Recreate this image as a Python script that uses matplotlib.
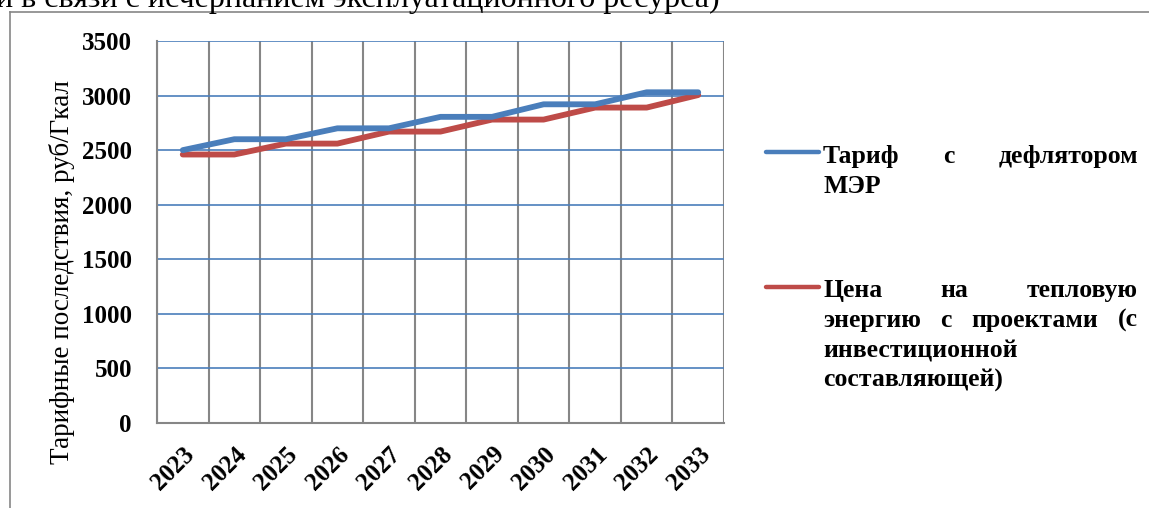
import numpy as np
import matplotlib.pyplot as plt
from matplotlib.lines import Line2D

plt.rcParams['font.family'] = ['Liberation Serif', 'DejaVu Serif']

years = ['2023', '2024', '2025', '2026', '2027', '2028',
         '2029', '2030', '2031', '2032', '2033']
tariff_mer = [2500, 2600, 2600, 2700, 2700, 2805, 2805, 2920, 2920, 3030, 3030]
price_invest = [2460, 2460, 2560, 2560, 2670, 2670, 2780, 2780, 2890, 2890, 3005]
y_ticks = [0, 500, 1000, 1500, 2000, 2500, 3000, 3500]

ylabel = 'Тарифные последствия, руб/Гкал'
top_text = 'и в связи с исчерпанием эксплуатационного ресурса)'
legend_1 = [['Тариф', 'с', 'дефлятором'], ['МЭР']]
legend_2 = [['Цена', 'на', 'тепловую'], ['энергию', 'с', 'проектами', '(с'],
            ['инвестиционной'], ['составляющей)']]

BLUE = '#4A7EBB'
RED = '#BE4B48'
GRAY = '#868686'

W, H = 1149, 508
fig = plt.figure(figsize=(W / 100, H / 100), dpi=100)


def fx(x):
    return x / W


def fy(y):
    return 1 - y / H


# chart frame (only left and top edges are visible in the crop)
fig.add_artist(Line2D([fx(10), fx(10)], [fy(12), fy(508)], color=GRAY, lw=1.2))
fig.add_artist(Line2D([fx(10), fx(1149)], [fy(12), fy(12)], color=GRAY, lw=1.2))

# text of the page above the chart, cut at the top
fig.text(fx(720), fy(7.5), top_text, fontsize=23, ha='right', va='baseline')

ax = fig.add_axes([fx(157), fy(423), fx(724 - 157), (423 - 41) / H])
x = np.arange(len(years))
ax.plot(x, tariff_mer, color=BLUE, lw=4.2, solid_capstyle='round',
        solid_joinstyle='round', zorder=4)
ax.plot(x, price_invest, color=RED, lw=4.2, solid_capstyle='round',
        solid_joinstyle='round', zorder=3)

ax.set_xlim(-0.5, len(years) - 0.5)
ax.set_ylim(0, 3500)
ax.set_yticks(y_ticks)
ax.set_xticks(x)
ax.set_xticklabels(years, rotation=45, ha='right', va='top',
                   rotation_mode='anchor', fontsize=18, fontweight='bold')
ax.set_xticks(np.arange(-0.5, len(years)), minor=True)
ax.tick_params(axis='both', which='both', length=0)
ax.tick_params(axis='x', which='major', pad=14)
ax.tick_params(axis='y', pad=18, labelsize=18)
for lbl in ax.get_yticklabels():
    lbl.set_fontweight('bold')

ax.grid(axis='x', which='minor', color=GRAY, lw=1.5)
ax.grid(axis='y', which='major', color=BLUE, lw=1.2)
ax.set_axisbelow(True)
for side in ['top', 'right']:
    ax.spines[side].set_visible(False)
for side in ['left', 'bottom']:
    ax.spines[side].set_color(GRAY)
    ax.spines[side].set_linewidth(1.5)

fig.text(fx(62), fy(272), ylabel, fontsize=19.5, rotation=90,
         ha='center', va='center')

# legend with justified text, as in the source document
renderer = fig.canvas.get_renderer()


def justified(lines, y0, step=30, left=823, right=1138, size=18.5):
    for i, words in enumerate(lines):
        y = fy(y0 + i * step)
        texts = [fig.text(0, y, w, fontsize=size, fontweight='bold',
                          va='baseline', ha='left') for w in words]
        widths = [t.get_window_extent(renderer).width for t in texts]
        if len(words) == 1:
            texts[0].set_x(fx(left))
            continue
        gap = (right - left - sum(widths)) / (len(words) - 1)
        pos = left
        for t, w in zip(texts, widths):
            t.set_x(fx(pos))
            pos += w + gap


fig.add_artist(Line2D([fx(766), fx(819)], [fy(152), fy(152)], color=BLUE,
                      lw=3.2, solid_capstyle='round'))
fig.add_artist(Line2D([fx(766), fx(819)], [fy(287), fy(287)], color=RED,
                      lw=3.2, solid_capstyle='round'))
justified(legend_1, 163)
justified(legend_2, 297)

fig.savefig('out.png', dpi=100)
